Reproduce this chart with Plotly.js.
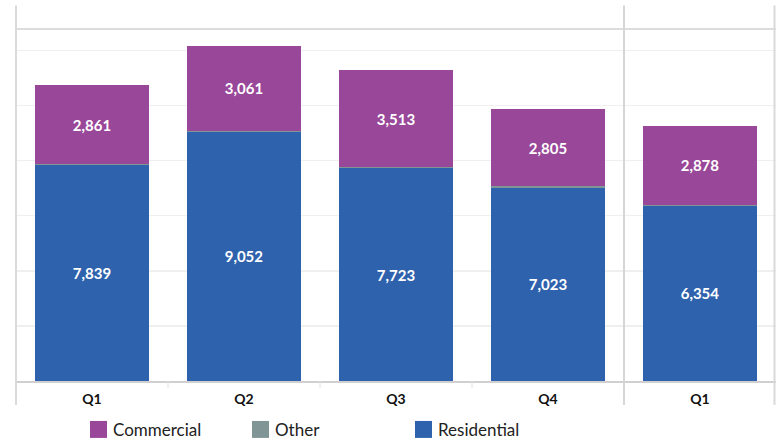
<!DOCTYPE html>
<html>
<head>
<meta charset="utf-8">
<script src="https://cdn.plot.ly/plotly-3.0.1.min.js"></script>
<style>html,body{margin:0;padding:0;background:#fff;}#chart{width:780px;height:441px;}</style>
</head>
<body>
<div id="chart"></div>
<script>
const periods = [0, 1, 2, 3, 4];
const tickLabels = ["Q1", "Q2", "Q3", "Q4", "Q1"];
const residential = [7839, 9052, 7723, 7023, 6354];
const other = [40, 40, 40, 40, 40];
const commercial = [2861, 3061, 3513, 2805, 2878];
const colors = {Residential: "#2F62AD", Other: "#809696", Commercial: "#994799"};

const labelFont = {family: "Lato, 'Open Sans', sans-serif", size: 15, color: "#ffffff", weight: "bold"};

function barTrace(name, vals, withText) {
  return {
    type: "bar", name: name, x: periods, y: vals,
    marker: {color: colors[name], line: {width: 0}},
    text: withText ? vals.map(v => v.toLocaleString("en-US")) : undefined,
    textposition: withText ? "inside" : "none",
    insidetextanchor: "middle",
    textfont: labelFont,
    hoverinfo: "skip", showlegend: false
  };
}

const data = [
  barTrace("Residential", residential, true),
  barTrace("Other", other, false),
  barTrace("Commercial", commercial, true)
];

// legend drawn as shapes + annotations
const legendItems = ["Commercial", "Other", "Residential"];
const legendX = [90, 252, 415];
const plotL = 16, plotW = 760, plotT = 28.5, plotH = 352.5;
const px2x = p => (p - plotL) / plotW;
const py2y = p => (plotT + plotH - p) / plotH;

const shapes = [
  {type: "line", xref: "paper", yref: "paper", x0: 0, x1: 1, y0: 1, y1: 1, line: {color: "#d0d0d0", width: 1.5}},
  {type: "line", xref: "paper", yref: "paper", x0: 0, x1: 0, y0: py2y(405), y1: py2y(5), line: {color: "#dadada", width: 2}},
  {type: "line", xref: "paper", yref: "paper", x0: px2x(774.5), x1: px2x(774.5), y0: py2y(405), y1: py2y(5), line: {color: "#dadada", width: 2}},
  {type: "line", xref: "x", yref: "paper", x0: 3.5, x1: 3.5, y0: py2y(405), y1: py2y(5), line: {color: "#d6d6d6", width: 2}}
];
[0.5, 1.5, 2.5].forEach(v => shapes.push({type: "line", xref: "x", yref: "paper", x0: v, x1: v, y0: 0, y1: py2y(388), line: {color: "#e0e0e0", width: 1}}));

const annotations = [];
legendItems.forEach((name, i) => {
  const x0 = legendX[i];
  shapes.push({type: "rect", xref: "paper", yref: "paper", x0: px2x(x0), x1: px2x(x0 + 17), y0: py2y(438), y1: py2y(421), fillcolor: colors[name], line: {width: 0}});
  annotations.push({xref: "paper", yref: "paper", x: px2x(x0 + 21), y: py2y(430), xanchor: "left", yanchor: "middle", showarrow: false, text: name, font: {family: "Lato, 'Open Sans', sans-serif", size: 17, color: "#222222"}});
});

const layout = {
  width: 780, height: 441,
  margin: {l: plotL, r: 780 - plotL - plotW, t: plotT, b: 441 - plotT - plotH, pad: 0},
  paper_bgcolor: "#ffffff", plot_bgcolor: "#ffffff",
  barmode: "stack", bargap: 0.25,
  showlegend: false,
  xaxis: {
    range: [-0.5, 4.5], tickvals: periods, ticktext: tickLabels,
    tickfont: {family: "Lato, 'Open Sans', sans-serif", size: 14, color: "#111111", weight: "bold"},
    showgrid: false, zeroline: false, showline: true, linecolor: "#d0d0d0", linewidth: 1.5,
    ticks: "", ticklabelstandoff: 5, fixedrange: true
  },
  yaxis: {
    range: [0, 12780], tickvals: [2000, 4000, 6000, 8000, 10000, 12000], showticklabels: false, ticks: "",
    showgrid: true, gridcolor: "#efefef", gridwidth: 1.5, zeroline: false, showline: false, fixedrange: true
  },
  shapes: shapes,
  annotations: annotations,
  font: {family: "Lato, 'Open Sans', sans-serif"}
};

Plotly.newPlot("chart", data, layout, {displayModeBar: false, staticPlot: true});
</script>
</body>
</html>
